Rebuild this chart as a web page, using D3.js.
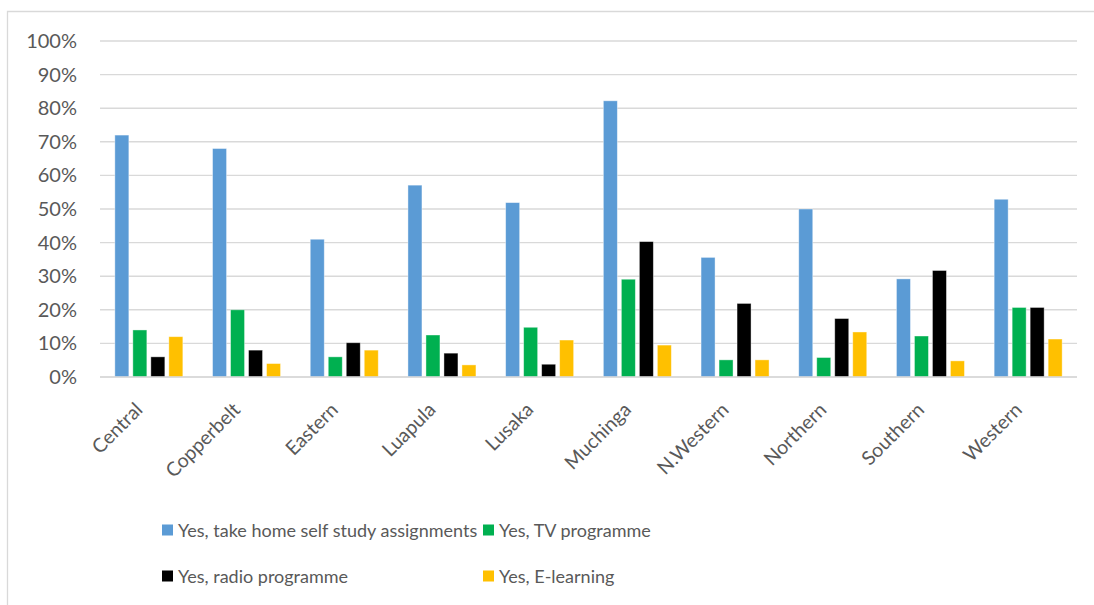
<!DOCTYPE html>
<html>
<head>
<meta charset="utf-8">
<script src="https://cdn.jsdelivr.net/npm/d3@7"></script>
<style>
  html, body { margin: 0; padding: 0; background: #fff; }
  svg { display: block; }
  text { font-family: Lato, "Open Sans", sans-serif; fill: #595959; }
</style>
</head>
<body>
<svg id="chart" width="1094" height="605"></svg>
<script>
// Provinces along the x axis
const provinces = ["Central", "Copperbelt", "Eastern", "Luapula", "Lusaka",
                   "Muchinga", "N.Western", "Northern", "Southern", "Western"];

// Series names (legend order)
const seriesNames = [
  "Yes, take home self study assignments",
  "Yes, TV programme",
  "Yes, radio programme",
  "Yes, E-learning"
];
const seriesColors = ["#5B9BD5", "#00B050", "#000000", "#FFC000"];

// Share of learners per province, one array per series
const selfStudy  = [0.72, 0.68, 0.41, 0.571, 0.519, 0.822, 0.356, 0.50, 0.292, 0.529];
const tvProgram  = [0.14, 0.20, 0.06, 0.125, 0.148, 0.291, 0.051, 0.058, 0.122, 0.207];
const radioProg  = [0.06, 0.08, 0.102, 0.071, 0.038, 0.403, 0.219, 0.174, 0.317, 0.207];
const eLearning  = [0.12, 0.04, 0.08, 0.036, 0.11, 0.095, 0.051, 0.134, 0.048, 0.113];
const seriesValues = [selfStudy, tvProgram, radioProg, eLearning];

// Y axis tick values
const yTicks = [0, 0.1, 0.2, 0.3, 0.4, 0.5, 0.6, 0.7, 0.8, 0.9, 1.0];

const svg = d3.select("#chart");

// Chart-area frame (open on the right and bottom edges of the page)
svg.append("path")
  .attr("d", "M7.5,605 L7.5,11.5 L1094,11.5")
  .attr("fill", "none")
  .attr("stroke", "#D9D9D9")
  .attr("stroke-width", 1.3);

const plot = { left: 100, right: 1077, top: 41, bottom: 377 };

const x = d3.scaleBand()
  .domain(provinces)
  .range([plot.left, plot.right])
  .paddingInner(0).paddingOuter(0);

const y = d3.scaleLinear()
  .domain([0, 1])
  .range([plot.bottom, plot.top]);

// Position of each series inside a province slot
const half = x.bandwidth() * 0.348;
const xs = d3.scaleBand()
  .domain(d3.range(seriesNames.length))
  .range([-half, half])
  .paddingInner(0.222).paddingOuter(0);

// Horizontal gridlines
svg.append("g")
  .selectAll("line")
  .data(yTicks)
  .join("line")
  .attr("x1", plot.left).attr("x2", plot.right)
  .attr("y1", d => y(d)).attr("y2", d => y(d))
  .attr("stroke", "#D9D9D9")
  .attr("stroke-width", 1.4);

// Y axis labels
const yAxis = d3.axisLeft(y).tickValues(yTicks).tickFormat(d3.format(".0%")).tickSize(0).tickPadding(0);
const yg = svg.append("g").attr("transform", `translate(${plot.left - 23},0)`).call(yAxis);
yg.select(".domain").remove();
yg.selectAll("text")
  .attr("font-size", 20)
  .attr("fill", "#595959")
  .style("font-family", "Lato, 'Open Sans', sans-serif");

// Bars
const groups = svg.append("g")
  .selectAll("g")
  .data(provinces)
  .join("g")
  .attr("transform", d => `translate(${x(d) + x.bandwidth() / 2},0)`);

groups.selectAll("rect")
  .data((d, i) => seriesValues.map((vals, s) => ({ s, v: vals[i] })))
  .join("rect")
  .attr("x", d => xs(d.s))
  .attr("width", xs.bandwidth())
  .attr("y", d => y(d.v))
  .attr("height", d => y(0) - y(d.v))
  .attr("fill", d => seriesColors[d.s])
  .attr("stroke", "#ffffff")
  .attr("stroke-opacity", 0.5)
  .attr("stroke-width", 0.8);

// Baseline
svg.append("line")
  .attr("x1", plot.left).attr("x2", plot.right)
  .attr("y1", y(0)).attr("y2", y(0))
  .attr("stroke", "#D9D9D9")
  .attr("stroke-width", 1.6);

// Category labels, rotated
svg.append("g")
  .selectAll("text")
  .data(provinces)
  .join("text")
  .attr("transform", d => `translate(${x(d) + x.bandwidth() / 2 - 5},411) rotate(-45)`)
  .attr("text-anchor", "end")
  .attr("font-size", 19.5)
  .text(d => d);

// Legend: two rows, two columns
const legendPos = [
  { x: 162, y: 530 }, { x: 483, y: 530 },
  { x: 162, y: 576 }, { x: 483, y: 576 }
];
const legend = svg.append("g")
  .selectAll("g")
  .data(seriesNames)
  .join("g")
  .attr("transform", (d, i) => `translate(${legendPos[i].x},${legendPos[i].y})`);

legend.append("rect")
  .attr("x", 0).attr("y", -5.5)
  .attr("width", 11).attr("height", 11)
  .attr("fill", (d, i) => seriesColors[i]);

legend.append("text")
  .attr("x", 16).attr("y", 0)
  .attr("dominant-baseline", "central")
  .attr("font-size", 18)
  .text(d => d);
</script>
</body>
</html>
